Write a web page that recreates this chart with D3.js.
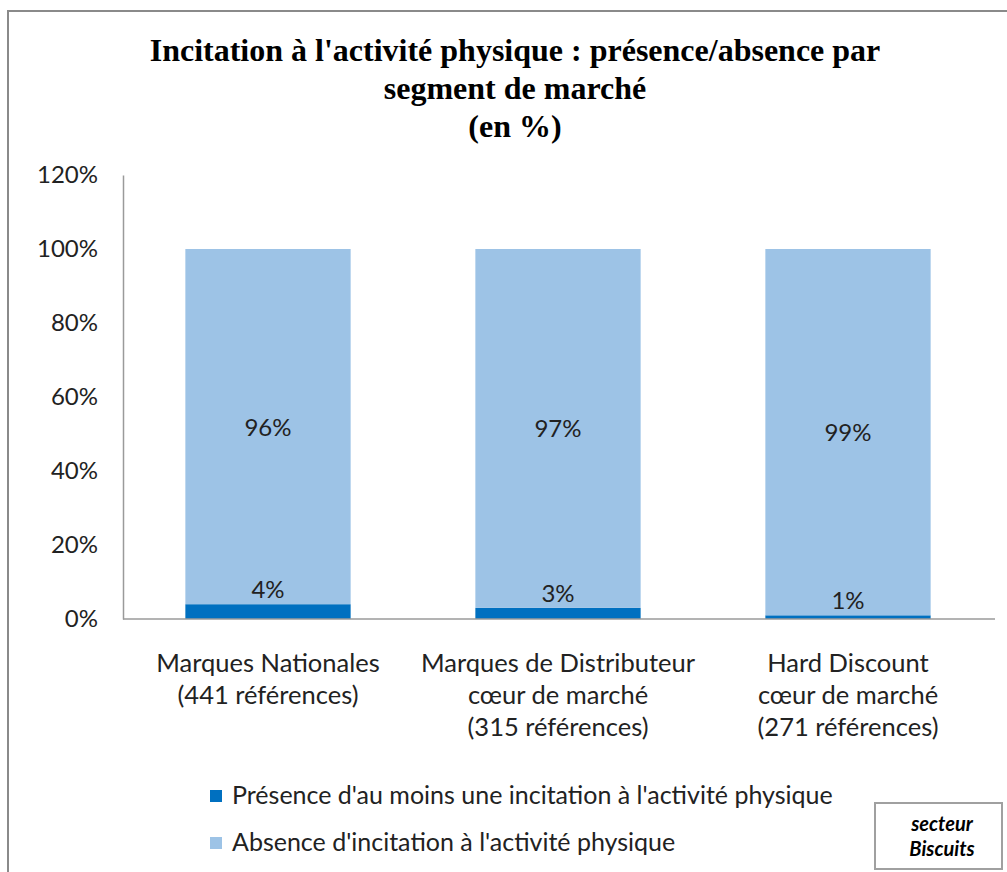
<!DOCTYPE html>
<html>
<head>
<meta charset="utf-8">
<script src="https://cdn.jsdelivr.net/npm/d3@7"></script>
<style>
  html, body { margin: 0; padding: 0; background: #fff; }
  svg { display: block; }
</style>
</head>
<body>
<svg id="chart" width="1007" height="872"></svg>
<script>
// Market segments (each label split over lines)
const categories = [
  ["Marques Nationales", "(441 références)"],
  ["Marques de Distributeur", "cœur de marché", "(315 références)"],
  ["Hard Discount", "cœur de marché", "(271 références)"]
];
// Shares in %
const presence = [4, 3, 1];
const absence = [96, 97, 99];
const seriesNames = [
  "Présence d'au moins une incitation à l'activité physique",
  "Absence d'incitation à l'activité physique"
];
const seriesColors = ["#0070C0", "#9DC3E6"];
const yTicks = [0, 20, 40, 60, 80, 100, 120];
const titleLines = [
  "Incitation à l'activité physique : présence/absence par",
  "segment de marché",
  "(en %)"
];

const svg = d3.select("#chart");
const sansFont = "Lato, 'Open Sans', sans-serif";

// Outer frame
svg.append("rect")
  .attr("x", 8).attr("y", 11)
  .attr("width", 1010).attr("height", 880)
  .attr("fill", "none").attr("stroke", "#8a8a8a").attr("stroke-width", 2);

// Title
svg.append("g").selectAll("text").data(titleLines).join("text")
  .attr("x", 515)
  .attr("y", (d, i) => 61 + i * 38)
  .attr("text-anchor", "middle")
  .attr("font-family", "'Liberation Serif', 'Times New Roman', serif")
  .attr("font-weight", "bold")
  .attr("font-size", 32)
  .attr("fill", "#000")
  .text(d => d);

const plot = { left: 123, right: 993, top: 175, bottom: 619 };

const x = d3.scaleBand()
  .domain(d3.range(categories.length))
  .range([plot.left, plot.right])
  .paddingInner(0.43)
  .paddingOuter(0.215);

const y = d3.scaleLinear()
  .domain([0, 120])
  .range([plot.bottom, plot.top]);

// Y axis
const yAxis = svg.append("g")
  .attr("transform", `translate(${plot.left},0)`)
  .call(d3.axisLeft(y).tickValues(yTicks).tickFormat(d => d + "%").tickSize(0).tickPadding(25));
yAxis.select(".domain").attr("stroke", "#9a9a9a").attr("stroke-width", 1.5);
yAxis.selectAll("text")
  .attr("font-family", sansFont)
  .attr("font-size", 24)
  .attr("fill", "#222");

// Stacked bars
const stackData = categories.map((c, i) => ({ idx: i, presence: presence[i], absence: absence[i] }));
const stacked = d3.stack().keys(["presence", "absence"])(stackData);

const layers = svg.append("g").selectAll("g").data(stacked).join("g")
  .attr("fill", (d, i) => seriesColors[i]);

layers.selectAll("rect").data(d => d).join("rect")
  .attr("x", d => x(d.data.idx))
  .attr("width", x.bandwidth())
  .attr("y", d => y(d[1]))
  .attr("height", d => y(d[0]) - y(d[1]));

// X axis baseline
svg.append("line")
  .attr("x1", plot.left).attr("x2", plot.right + 2)
  .attr("y1", plot.bottom).attr("y2", plot.bottom)
  .attr("stroke", "#9a9a9a").attr("stroke-width", 1.5);

// Value labels
const labels = svg.append("g")
  .attr("font-family", sansFont)
  .attr("font-size", 24)
  .attr("fill", "#222")
  .attr("text-anchor", "middle");

// Absence labels centred in the light segment
labels.selectAll("text.abs").data(stacked[1]).join("text")
  .attr("class", "abs")
  .attr("x", d => x(d.data.idx) + x.bandwidth() / 2)
  .attr("y", d => (y(d[0]) + y(d[1])) / 2 + 9)
  .text(d => d.data.absence + "%");

// Presence labels just above the thin dark segment
labels.selectAll("text.pres").data(stacked[0]).join("text")
  .attr("class", "pres")
  .attr("x", d => x(d.data.idx) + x.bandwidth() / 2)
  .attr("y", d => y(d[1]) - 6)
  .text(d => d.data.presence + "%");

// Category labels
const catG = svg.append("g")
  .attr("font-family", sansFont)
  .attr("font-size", 25.5)
  .attr("fill", "#222")
  .attr("text-anchor", "middle");
categories.forEach((lines, i) => {
  catG.append("text")
    .attr("x", x(i) + x.bandwidth() / 2)
    .attr("y", 672)
    .selectAll("tspan").data(lines).join("tspan")
    .attr("x", x(i) + x.bandwidth() / 2)
    .attr("dy", (d, j) => j === 0 ? 0 : 32)
    .text(d => d);
});

// Legend
const legend = svg.append("g")
  .attr("font-family", sansFont)
  .attr("font-size", 25)
  .attr("fill", "#222");
const legendItems = legend.selectAll("g").data(seriesNames).join("g")
  .attr("transform", (d, i) => `translate(210,${790 + i * 47})`);
legendItems.append("rect")
  .attr("width", 12).attr("height", 12)
  .attr("fill", (d, i) => seriesColors[i]);
legendItems.append("text")
  .attr("x", 22).attr("y", 14)
  .text(d => d);

// Sector box
svg.append("rect")
  .attr("x", 875).attr("y", 803)
  .attr("width", 127).attr("height", 66)
  .attr("fill", "#fff").attr("stroke", "#a0a0a0").attr("stroke-width", 2);
svg.append("text")
  .attr("x", 942).attr("y", 831)
  .attr("text-anchor", "middle")
  .attr("font-family", sansFont)
  .attr("font-size", 20)
  .attr("font-weight", "bold")
  .attr("font-style", "italic")
  .selectAll("tspan").data(["secteur", "Biscuits"]).join("tspan")
  .attr("x", 942)
  .attr("dy", (d, j) => j === 0 ? 0 : 25)
  .text(d => d);
</script>
</body>
</html>
